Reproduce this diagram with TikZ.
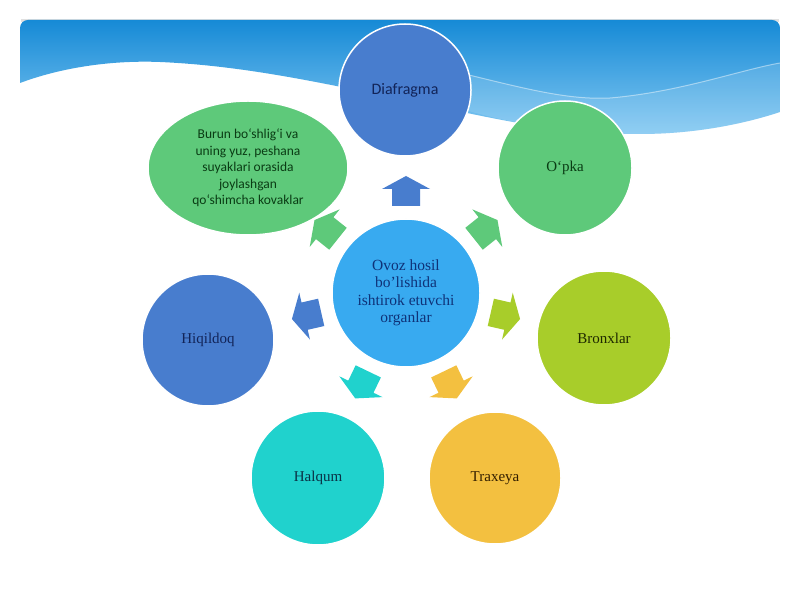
\documentclass[tikz,border=0pt]{standalone}
\usepackage{fontspec}
\setmainfont{Liberation Serif}
\newfontfamily\calfont{Carlito}
\usetikzlibrary{calc,shapes.geometric}
\definecolor{bannerTop}{RGB}{22,138,214}
\definecolor{bannerBot}{RGB}{130,200,242}
\definecolor{cBlue}{RGB}{72,125,206}
\definecolor{cGreen}{RGB}{94,201,122}
\definecolor{cLime}{RGB}{168,205,42}
\definecolor{cOrange}{RGB}{243,192,64}
\definecolor{cCyan}{RGB}{32,210,205}
\definecolor{cCenter}{RGB}{56,170,240}
\definecolor{tNavy}{RGB}{18,36,88}
\definecolor{tGreen}{RGB}{10,60,20}
\definecolor{tOlive}{RGB}{30,40,0}
\definecolor{tBrown}{RGB}{50,30,0}
\definecolor{tTeal}{RGB}{10,50,70}
\definecolor{tCenter}{RGB}{15,50,120}
\tikzset{
  organ/.style={circle, draw=white, line width=1.5pt, minimum size=#1, inner sep=0pt,
    align=center, font=\fontsize{15}{17}\selectfont},
  blockarrow/.style={fill=#1, draw=none}
}
\begin{document}
\begin{tikzpicture}[x=1pt,y=1pt]
\useasboundingbox (0,0) rectangle (800,600);
\fill[white] (0,0) rectangle (800,600);
% banner
\fill[black!12] (21,581) -- (779,581) -- (779,578) -- (21,578) -- cycle;
\shade[top color=bannerTop, bottom color=bannerBot]
  (20,517) .. controls (60,532) and (110,540) .. (160,538)
  .. controls (250,534) and (330,515) .. (420,497)
  .. controls (500,480) and (560,466) .. (640,466)
  .. controls (700,466) and (750,478) .. (780,488)
  -- (780,572) arc[start angle=0,end angle=90,radius=8]
  -- (28,580) arc[start angle=90,end angle=180,radius=8] -- cycle;
\fill[white, opacity=0.12]
  (465,526) .. controls (530,510) and (570,500) .. (610,502)
  .. controls (680,508) and (740,530) .. (780,537)
  -- (780,488) .. controls (750,478) and (700,466) .. (640,466)
  .. controls (560,466) and (500,480) .. (465,490) -- cycle;
\draw[white, opacity=0.45, line width=1pt]
  (465,526) .. controls (530,510) and (570,500) .. (610,502)
  .. controls (680,508) and (740,530) .. (780,537);

% centre
\node[organ=148pt, fill=cCenter, text=tCenter,
  font=\fontsize{15.5}{17.5}\selectfont] (ctr) at (406,307)
  {Ovoz hosil\\bo'lishida\\ishtirok etuvchi\\organlar};

% outer organs
\node[organ=132pt, fill=cBlue, text=tNavy, font=\calfont\fontsize{16}{17}\selectfont] (dia) at (405,510) {Diafragma};
\node[organ=134pt, fill=cGreen, text=tGreen] (opka) at (565,432) {O‘pka};
\node[organ=134pt, fill=cLime, text=tOlive] (bron) at (604,262) {Bronxlar};
\node[organ=132pt, fill=cOrange, text=tBrown] (trax) at (495,122) {Traxeya};
\node[organ=134pt, fill=cCyan, text=tTeal] (halq) at (318,122) {Halqum};
\node[organ=132pt, fill=cBlue, text=tNavy] (hiq) at (208,260) {Hiqildoq};
\node[ellipse, draw=white, line width=1.5pt, fill=cGreen, text=tGreen,
  minimum width=200pt, minimum height=134pt, inner sep=0pt, align=center,
  font=\calfont\fontsize{13.5}{16.5}\selectfont] (burun) at (248,432)
  {Burun bo‘shlig‘i va\\uning yuz, peshana\\suyaklari orasida\\joylashgan\\qo‘shimcha kovaklar};

% block arrows from centre towards each organ
\foreach \ang/\col in {90/cBlue, 38.57/cGreen, -12.86/cLime, -64.29/cOrange,
                       -115.71/cCyan, -167.14/cBlue, 141.43/cGreen}{
  \begin{scope}[shift={($(ctr.center)+(\ang:102)$)}, rotate=\ang]
    \fill[blockarrow=\col] (-15,-14) -- (2,-14) -- (2,-24) -- (15,0)
      -- (2,24) -- (2,14) -- (-15,14) -- cycle;
  \end{scope}
}
\end{tikzpicture}
\end{document}
